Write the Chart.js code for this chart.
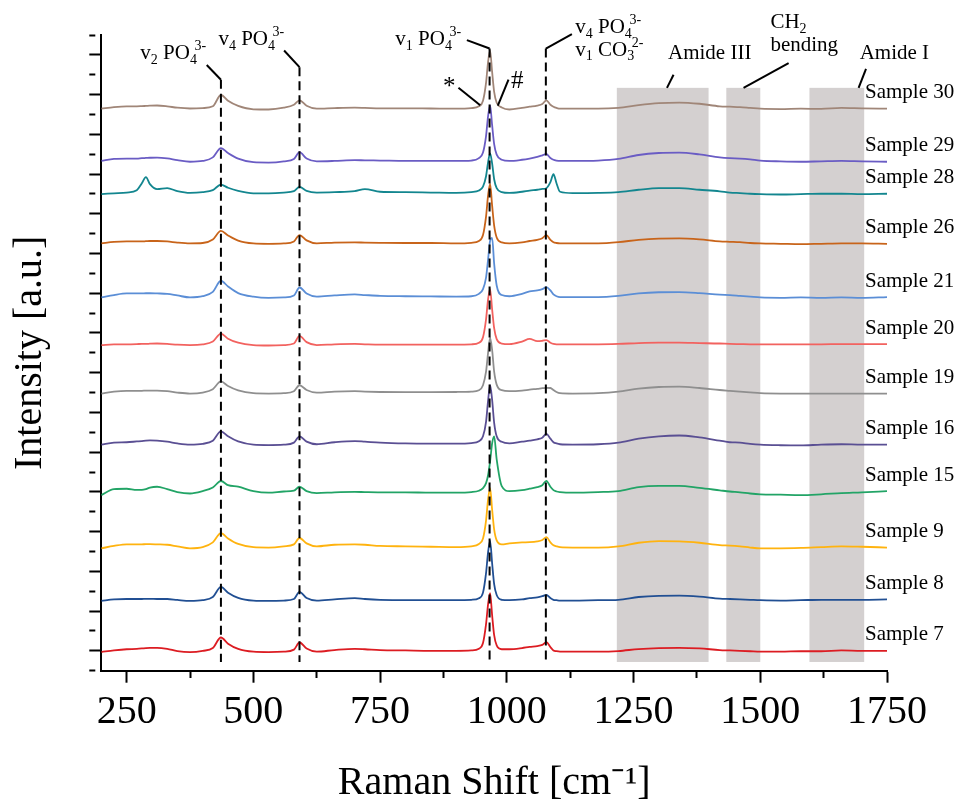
<!DOCTYPE html>
<html>
<head>
<meta charset="utf-8">
<title>Raman spectra</title>
<script src="https://cdn.jsdelivr.net/npm/chart.js@4.4.1/dist/chart.umd.min.js"></script>
<style>
  html, body { margin: 0; padding: 0; background: #fff; }
  #wrap { width: 957px; height: 803px; }
</style>
</head>
<body>
<div id="wrap"><canvas id="canvas"></canvas></div>
<script>
// Raman shift (cm-1) sampled for every spectrum
var shifts = [
  200, 225, 250, 270, 280, 288, 296, 310, 330, 350,
  375, 400, 420, 436, 450, 470, 500, 530, 560, 580,
  591, 605, 625, 660, 700, 720, 750, 800, 850, 900,
  930, 945, 953, 959, 963, 967, 971, 975, 980, 990,
  1005, 1030, 1045, 1060, 1070, 1078, 1086, 1092, 1098, 1105,
  1130, 1180, 1220, 1260, 1300, 1340, 1380, 1420, 1440, 1460,
  1480, 1500, 1540, 1580, 1620, 1660, 1700, 1750
];

var sampleNames = ['Sample 30', 'Sample 29', 'Sample 28', 'Sample 26', 'Sample 21', 'Sample 20',
                   'Sample 19', 'Sample 16', 'Sample 15', 'Sample 9', 'Sample 8', 'Sample 7'];

// vertical offset of each spectrum in the stack (a.u.)
var offsets = [27.29, 24.66, 22.99, 20.51, 17.79, 15.39, 12.95, 10.38, 7.84, 5.16, 2.51, -0.06];

// intensity above the offset (a.u.)
var sample30 = [
  0, 0.08, 0.12, 0.12, 0.13, 0.14, 0.15, 0.16, 0.12, 0.05,
  0.01, 0.03, 0.12, 0.69, 0.4, 0.14, -0.03, -0.04, 0.05, 0.2,
  0.42, 0.15, 0.0, 0.03, 0.05, 0.04, 0.02, 0.02, 0.01, 0.0,
  0.03, 0.12, 0.4, 1.3, 2.35, 2.92, 1.85, 0.85, 0.3, 0.06,
  -0.04, 0.04, 0.1, 0.16, 0.24, 0.42, 0.2, 0.1, 0.04, 0.0,
  0.0, 0.0, 0.04, 0.18, 0.28, 0.31, 0.25, 0.12, 0.1, 0.08,
  0.04, 0.0, -0.02, 0.0, -0.01, 0.04, 0.02, 0.0
];
var sample29 = [
  0, 0.1, 0.12, 0.12, 0.14, 0.15, 0.16, 0.17, 0.13, 0.04,
  -0.04, 0.0, 0.18, 0.65, 0.4, 0.12, -0.06, -0.08, -0.02, 0.1,
  0.44, 0.12, -0.02, 0.0, 0.04, 0.03, 0.02, 0.0, 0.0, 0.0,
  0.02, 0.14, 0.42, 1.25, 2.25, 2.8, 1.8, 0.85, 0.32, 0.06,
  0.0, 0.06, 0.12, 0.2, 0.28, 0.35, 0.15, 0.06, 0.02, 0.0,
  0.0, 0.02, 0.1, 0.3, 0.4, 0.42, 0.33, 0.18, 0.14, 0.12,
  0.08, 0.02, -0.02, -0.04, -0.02, 0.0, -0.02, -0.04
];
var sample28 = [
  0, 0.04, 0.08, 0.2, 0.55, 0.86, 0.5, 0.25, 0.3, 0.15,
  0.06, 0.1, 0.2, 0.48, 0.32, 0.16, 0.04, 0.04, 0.08, 0.15,
  0.36, 0.16, 0.08, 0.1, 0.15, 0.25, 0.12, 0.1, 0.08, 0.06,
  0.1, 0.18, 0.38, 0.9, 1.6, 2.05, 1.55, 0.75, 0.3, 0.1,
  0.06, 0.12, 0.18, 0.22, 0.26, 0.3, 0.6, 1.0, 0.55, 0.12,
  0.05, 0.06, 0.1, 0.22, 0.3, 0.3, 0.22, 0.14, 0.08, 0.05,
  0.02, 0.0, -0.02, 0.0, 0.02, 0.02, 0.0, 0.02
];
var sample26 = [
  0, 0.08, 0.1, 0.1, 0.1, 0.11, 0.12, 0.12, 0.1, 0.04,
  0.0, 0.02, 0.2, 0.63, 0.4, 0.14, 0.0, -0.02, 0.0, 0.1,
  0.42, 0.15, 0.0, 0.04, 0.05, 0.04, 0.03, 0.02, 0.02, 0.0,
  0.03, 0.12, 0.42, 1.35, 2.4, 2.99, 1.9, 0.9, 0.3, 0.05,
  0.0, 0.05, 0.12, 0.18, 0.26, 0.42, 0.18, 0.06, 0.02, 0.0,
  0.0, 0.0, 0.06, 0.18, 0.24, 0.25, 0.2, 0.1, 0.08, 0.06,
  0.02, 0.0, -0.02, -0.04, -0.02, 0.0, 0.0, -0.02
];
var sample21 = [
  0, 0.12, 0.2, 0.2, 0.2, 0.21, 0.21, 0.2, 0.18, 0.1,
  0.0, 0.06, 0.28, 0.84, 0.55, 0.22, 0.04, -0.02, 0.0, 0.1,
  0.5, 0.2, 0.04, 0.1, 0.15, 0.12, 0.08, 0.06, 0.05, 0.04,
  0.06, 0.18, 0.42, 1.0, 1.9, 2.85, 3.0, 1.7, 0.6, 0.12,
  0.06, 0.18, 0.3, 0.35, 0.42, 0.52, 0.35, 0.15, 0.06, 0.02,
  0.02, 0.02, 0.08, 0.2, 0.26, 0.27, 0.22, 0.14, 0.12, 0.08,
  0.04, 0.0, -0.02, 0.0, -0.02, 0.0, -0.02, 0.02
];
var sample20 = [
  0, 0.04, 0.04, 0.05, 0.06, 0.06, 0.07, 0.08, 0.06, 0.02,
  0.0, 0.04, 0.18, 0.58, 0.32, 0.12, 0.0, -0.02, 0.0, 0.08,
  0.46, 0.15, 0.0, 0.04, 0.06, 0.04, 0.02, 0.02, 0.02, 0.02,
  0.04, 0.12, 0.4, 1.3, 2.3, 2.82, 1.8, 0.85, 0.3, 0.08,
  0.05, 0.18, 0.31, 0.2, 0.22, 0.25, 0.12, 0.06, 0.04, 0.04,
  0.04, 0.04, 0.06, 0.1, 0.12, 0.12, 0.1, 0.08, 0.06, 0.05,
  0.04, 0.04, 0.04, 0.04, 0.04, 0.05, 0.05, 0.05
];
var sample19 = [
  0, 0.1, 0.14, 0.14, 0.14, 0.15, 0.15, 0.15, 0.12, 0.05,
  0.0, 0.05, 0.22, 0.61, 0.38, 0.16, 0.02, 0.0, 0.02, 0.12,
  0.42, 0.18, 0.05, 0.1, 0.12, 0.1, 0.08, 0.07, 0.07, 0.08,
  0.1, 0.17, 0.42, 1.1, 2.05, 2.82, 2.2, 1.1, 0.45, 0.17,
  0.12, 0.15, 0.2, 0.24, 0.27, 0.29, 0.28, 0.18, 0.08, 0.02,
  0.0, 0.02, 0.1, 0.25, 0.33, 0.35, 0.28, 0.18, 0.14, 0.1,
  0.06, 0.02, 0.0, 0.0, 0.0, 0.0, 0.0, 0.0
];
var sample16 = [
  0, 0.1, 0.12, 0.16, 0.18, 0.2, 0.21, 0.2, 0.15, 0.06,
  0.0, 0.04, 0.2, 0.67, 0.42, 0.16, 0.0, -0.02, 0.0, 0.1,
  0.42, 0.15, 0.02, 0.12, 0.18, 0.15, 0.1, 0.06, 0.05, 0.05,
  0.08, 0.17, 0.42, 1.15, 2.2, 2.99, 2.25, 1.1, 0.42, 0.14,
  0.06, 0.15, 0.2, 0.27, 0.35, 0.54, 0.3, 0.12, 0.06, 0.02,
  0.0, 0.02, 0.1, 0.3, 0.42, 0.46, 0.36, 0.2, 0.12, 0.1,
  0.04, 0.0, -0.03, -0.04, 0.0, 0.02, 0.0, 0.0
];
var sample15 = [
  0, 0.3, 0.32, 0.26, 0.26, 0.3, 0.38, 0.42, 0.3, 0.15,
  0.08, 0.2, 0.38, 0.71, 0.5, 0.42, 0.2, 0.12, 0.18, 0.22,
  0.42, 0.2, 0.1, 0.14, 0.16, 0.15, 0.14, 0.14, 0.12, 0.12,
  0.15, 0.22, 0.35, 0.6, 1.0, 1.7, 2.6, 2.96, 1.8, 0.45,
  0.2, 0.25, 0.32, 0.4, 0.5, 0.72, 0.42, 0.25, 0.18, 0.15,
  0.12, 0.15, 0.2, 0.4, 0.46, 0.46, 0.36, 0.24, 0.18, 0.14,
  0.08, 0.04, 0.02, 0.0, 0.04, 0.1, 0.14, 0.2
];
var sample9 = [
  0, 0.12, 0.2, 0.2, 0.2, 0.21, 0.21, 0.2, 0.18, 0.1,
  0.0, 0.06, 0.3, 0.77, 0.5, 0.22, 0.06, 0.04, 0.1, 0.2,
  0.52, 0.25, 0.1, 0.18, 0.2, 0.18, 0.12, 0.1, 0.08, 0.06,
  0.1, 0.22, 0.5, 1.4, 2.45, 3.03, 1.95, 0.95, 0.4, 0.2,
  0.25, 0.3, 0.31, 0.35, 0.42, 0.56, 0.3, 0.15, 0.1, 0.06,
  0.04, 0.04, 0.1, 0.28, 0.36, 0.35, 0.28, 0.16, 0.14, 0.1,
  0.04, 0.0, 0.0, 0.02, 0.06, 0.1, 0.08, 0.04
];
var sample8 = [
  0, 0.08, 0.1, 0.1, 0.1, 0.11, 0.11, 0.1, 0.1, 0.05,
  0.0, 0.04, 0.2, 0.71, 0.42, 0.16, 0.02, 0.0, 0.02, 0.1,
  0.46, 0.15, 0.02, 0.08, 0.14, 0.1, 0.06, 0.04, 0.04, 0.04,
  0.06, 0.14, 0.42, 1.4, 2.45, 3.03, 1.9, 0.85, 0.3, 0.06,
  0.04, 0.08, 0.14, 0.18, 0.24, 0.31, 0.15, 0.06, 0.04, 0.02,
  0.02, 0.04, 0.06, 0.2, 0.26, 0.27, 0.22, 0.12, 0.1, 0.08,
  0.06, 0.04, 0.02, 0.04, 0.06, 0.06, 0.06, 0.08
];
var sample7 = [
  0, 0.08, 0.14, 0.16, 0.18, 0.2, 0.21, 0.21, 0.16, 0.05,
  0.0, 0.06, 0.2, 0.73, 0.42, 0.16, 0.02, 0.0, 0.02, 0.12,
  0.48, 0.18, 0.02, 0.1, 0.16, 0.14, 0.1, 0.08, 0.06, 0.06,
  0.08, 0.17, 0.45, 1.4, 2.4, 2.96, 1.85, 0.85, 0.33, 0.14,
  0.14, 0.2, 0.26, 0.3, 0.36, 0.5, 0.25, 0.08, 0.04, 0.02,
  0.02, 0.02, 0.05, 0.15, 0.2, 0.21, 0.18, 0.1, 0.08, 0.06,
  0.04, 0.02, 0.02, 0.04, 0.04, 0.08, 0.06, 0.06
];

var xTicks = [250, 375, 500, 625, 750, 875, 1000, 1125, 1250, 1375, 1500, 1625, 1750];
// shaded regions (cm-1): Amide III, CH2 bending, Amide I
var bands = [[1217, 1398], [1433, 1500], [1597, 1705]];
// dashed band markers (cm-1)
var markers = [436, 591, 966, 1077];

var spectra = [sample30, sample29, sample28, sample26, sample21, sample20,
               sample19, sample16, sample15, sample9, sample8, sample7];
var colors = ['#a08678', '#6a5cc4', '#13868f', '#c8641a', '#5b8ed6', '#f2625f',
              '#8f8f8f', '#5a4f93', '#22a466', '#ffb30f', '#214f93', '#dc1c22'];

var FONT = '"Liberation Serif", "Times New Roman", serif';

function drawRich(ctx, x, y, parts, size) {
  var cx = x, lastW = 0, prev = 'n';
  parts.forEach(function (p) {
    var kind = p[1] || 'n';
    var fs = kind === 'n' ? size : Math.round(size * 0.65);
    var dy = kind === 'sub' ? size * 0.22 : (kind === 'sup' ? -size * 0.42 : 0);
    if (kind === 'sup' && prev === 'sub') cx -= lastW * 0.35;
    ctx.font = fs + 'px ' + FONT;
    ctx.fillText(p[0], cx, y + dy);
    lastW = ctx.measureText(p[0]).width;
    cx += lastW;
    prev = kind;
  });
}

var annotate = {
  id: 'annotate',
  beforeDatasetsDraw: function (chart) {
    var ctx = chart.ctx, xs = chart.scales.x, ys = chart.scales.y;
    ctx.save();
    ctx.fillStyle = '#d4d0d0';
    bands.forEach(function (b) {
      var x1 = xs.getPixelForValue(b[0]), x2 = xs.getPixelForValue(b[1]);
      var y1 = ys.getPixelForValue(28.34), y2 = ys.getPixelForValue(-0.56);
      ctx.fillRect(x1, y1, x2 - x1, y2 - y1);
    });
    ctx.restore();
  },
  afterDatasetsDraw: function (chart) {
    var ctx = chart.ctx, xs = chart.scales.x, ys = chart.scales.y;
    function px(v) { return xs.getPixelForValue(v); }
    function py(v) { return ys.getPixelForValue(v); }
    ctx.save();
    ctx.strokeStyle = '#000';
    ctx.lineWidth = 2;

    // dashed markers
    var tops = [28.75, 29.38, 30.32, 30.32];
    ctx.setLineDash([9, 5]);
    markers.forEach(function (m, i) {
      ctx.beginPath();
      ctx.moveTo(px(m), py(tops[i]));
      ctx.lineTo(px(m), py(-0.56));
      ctx.stroke();
    });
    ctx.setLineDash([]);

    // leader lines
    var leaders = [
      [408, 29.49, 436, 28.75], [560.6, 30.22, 591, 29.38], [921.2, 30.74, 966, 30.32],
      [1128.4, 31.05, 1077, 30.32], [904.6, 28.34, 947.5, 27.46], [1003.3, 28.75, 982.3, 27.44],
      [1328.9, 29.0, 1315.9, 28.34], [1555.9, 29.59, 1467, 28.34], [1708.6, 29.3, 1694, 28.34]
    ];
    leaders.forEach(function (l) {
      ctx.beginPath();
      ctx.moveTo(px(l[0]), py(l[1]));
      ctx.lineTo(px(l[2]), py(l[3]));
      ctx.stroke();
    });

    // band labels
    ctx.fillStyle = '#000';
    ctx.textBaseline = 'alphabetic';
    ctx.textAlign = 'left';
    var labels = [
      { x: 277, y: 29.78, parts: [['v'], ['2', 'sub'], [' PO'], ['4', 'sub'], ['3-', 'sup']] },
      { x: 431, y: 30.5, parts: [['v'], ['4', 'sub'], [' PO'], ['4', 'sub'], ['3-', 'sup']] },
      { x: 780, y: 30.5, parts: [['v'], ['1', 'sub'], [' PO'], ['4', 'sub'], ['3-', 'sup']] },
      { x: 1135, y: 31.09, parts: [['v'], ['4', 'sub'], [' PO'], ['4', 'sub'], ['3-', 'sup']] },
      { x: 1135, y: 29.95, parts: [['v'], ['1', 'sub'], [' CO'], ['3', 'sub'], ['2-', 'sup']] },
      { x: 874, y: 28.04, parts: [['*']], size: 25 },
      { x: 1008, y: 28.33, parts: [['#']], size: 25 },
      { x: 1318, y: 29.8, parts: [['Amide III']] },
      { x: 1520, y: 31.35, parts: [['CH'], ['2', 'sub']] },
      { x: 1520, y: 30.17, parts: [['bending']] },
      { x: 1696, y: 29.78, parts: [['Amide I']] }
    ];
    labels.forEach(function (l) {
      drawRich(ctx, px(l.x), py(l.y), l.parts, l.size || 21);
    });

    // sample names above the right end of each spectrum
    ctx.font = '21px ' + FONT;
    chart.data.datasets.forEach(function (ds) {
      var last = ds.data[ds.data.length - 1];
      ctx.fillText(ds.label, px(last.x) - 22, py(last.y) - 10.5);
    });
    ctx.restore();
  }
};

var datasets = spectra.map(function (vals, k) {
  return {
    label: sampleNames[k],
    data: shifts.map(function (s, i) { return { x: s, y: offsets[k] + vals[i] }; }),
    borderColor: colors[k],
    borderWidth: 1.8,
    pointRadius: 0,
    cubicInterpolationMode: 'monotone',
    fill: false
  };
});

var ctx = document.getElementById('canvas');
var progressChart = new Chart(ctx, {
  type: 'line',
  data: { datasets: datasets },
  plugins: [annotate],
  options: {
    responsive: true,
    maintainAspectRatio: false,
    animation: false,
    layout: { padding: { top: 35, right: 70, left: 0, bottom: 0 } },
    plugins: { legend: { display: false }, tooltip: { enabled: false } },
    scales: {
      x: {
        type: 'linear',
        min: 200,
        max: 1750,
        afterBuildTicks: function (s) {
          s.ticks = xTicks.map(function (v) { return { value: v }; });
        },
        afterFit: function (s) { s.height = 132.3; },
        border: { display: true, color: '#000', width: 2 },
        grid: {
          drawOnChartArea: false,
          tickLength: 12,
          tickWidth: 2,
          tickColor: '#000',
          tickBorderDash: function (c) {
            return c.tick && c.tick.value % 250 === 0 ? [] : [6, 30];
          }
        },
        ticks: {
          color: '#000',
          font: { family: FONT, size: 40 },
          padding: 6,
          maxRotation: 0,
          autoSkip: false,
          callback: function (v) { return v % 250 === 0 ? String(v) : ''; }
        },
        title: {
          display: true,
          text: 'Raman Shift [cm\u207B\u00B9]',
          color: '#000',
          font: { family: FONT, size: 40, lineHeight: 1 },
          padding: 0
        }
      },
      y: {
        min: -1,
        max: 31,
        afterFit: function (s) { s.width = 101.3; },
        border: { display: true, color: '#000', width: 2 },
        grid: {
          drawOnChartArea: false,
          tickLength: 12,
          tickWidth: 2,
          tickColor: '#000',
          tickBorderDash: function (c) {
            return c.tick && Math.abs(c.tick.value) % 2 === 1 ? [6, 30] : [];
          }
        },
        ticks: { display: false, stepSize: 1 },
        title: {
          display: true,
          text: 'Intensity [a.u.]',
          color: '#000',
          font: { family: FONT, size: 40, lineHeight: 1 },
          padding: { top: 10 }
        }
      }
    }
  }
});
</script>
</body>
</html>
